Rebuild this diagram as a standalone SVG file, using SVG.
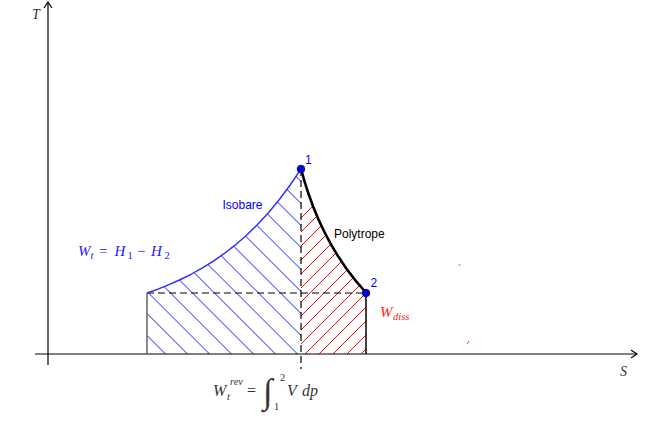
<svg xmlns="http://www.w3.org/2000/svg" width="669" height="441" viewBox="0 0 669 441">
  <style>
    .axis { stroke: #000; stroke-width: 1.2; fill: none; }
    .dash { stroke: #000; stroke-width: 1.2; fill: none; stroke-dasharray: 7 4; }
    .hatchB { stroke: #1a1aff; stroke-width: 1; fill: none; }
    .hatchR { stroke: #ff0000; stroke-width: 1; fill: none; }
    .math { font-family: "Liberation Serif", "DejaVu Serif", serif; font-style: italic; }
    .up { font-style: normal; }
    .sans { font-family: "Liberation Sans", Arial, sans-serif; font-size: 12px; }
    .pt { fill: #0000e0; stroke: #000060; stroke-width: 0.8; }
  </style>
  <defs>
    <marker id="arr" markerUnits="userSpaceOnUse" viewBox="-8 -5 10 10" markerWidth="10" markerHeight="10" refX="0" refY="0" orient="auto">
      <path d="M-6,-4 L0,0 L-6,4" fill="none" stroke="#000" stroke-width="1.2"/>
    </marker>
    <clipPath id="clipB">
      <path d="M147,293 L158,289.06 L169,284.65 L180,279.75 L191,274.26 L202,268.14 L213,261.31 L224,253.68 L235,245.17 L246,235.67 L257,225.06 L268,213.22 L279,200 L290,185.24 L301,168.77 L301,354 L147,354 Z"/>
    </clipPath>
    <clipPath id="clipR">
      <path d="M301,169 L304.5,181.4 L308.5,193.8 L313,206.2 L318.1,218.6 L323.9,231 L330.4,243.4 L337.8,255.8 L346.1,268.2 L355.6,280.6 L366.3,293 L366,354 L301,354 Z"/>
    </clipPath>
  </defs>

  <g id="hatching">
    <path class="hatchB" clip-path="url(#clipB)" d="M140,20.5 L310,190.5 M140,42.5 L310,212.5 M140,64.5 L310,234.5 M140,86.5 L310,256.5 M140,108.5 L310,278.5 M140,130.5 L310,300.5 M140,152.5 L310,322.5 M140,174.5 L310,344.5 M140,196.5 L310,366.5 M140,218.5 L310,388.5 M140,240.5 L310,410.5 M140,262.5 L310,432.5 M140,284.5 L310,454.5 M140,306.5 L310,476.5 M140,328.5 L310,498.5"/>
    <path class="hatchR" clip-path="url(#clipR)" d="M295,224 L372,147 M295,238 L372,161 M295,252 L372,175 M295,266 L372,189 M295,280 L372,203 M295,294 L372,217 M295,308 L372,231 M295,322 L372,245 M295,336 L372,259 M295,350 L372,273 M295,364 L372,287 M295,378 L372,301 M295,392 L372,315 M295,406 L372,329 M295,420 L372,343"/>
  </g>

  <g id="axes">
    <line class="axis" x1="35" y1="354" x2="637" y2="354" marker-end="url(#arr)"/>
    <line class="axis" x1="48" y1="365" x2="48" y2="2" marker-end="url(#arr)"/>
    <text class="math" x="32" y="19" font-size="14" fill="#333">T</text>
    <text class="math" x="620" y="376" font-size="14" fill="#333">S</text>
  </g>

  <g id="connectors">
    <line class="dash" x1="301" y1="169" x2="301" y2="369"/>
    <line class="dash" x1="147" y1="293" x2="366" y2="293"/>
    <line x1="147" y1="293" x2="147" y2="354" stroke="#666" stroke-width="1.5"/>
    <line x1="366" y1="293" x2="366" y2="354" stroke="#000" stroke-width="1.5"/>
    <polyline id="isobare" fill="none" stroke="#2a2aff" stroke-width="1.4" stroke-linejoin="round" points="147,293 158,289.06 169,284.65 180,279.75 191,274.26 202,268.14 213,261.31 224,253.68 235,245.17 246,235.67 257,225.06 268,213.22 279,200 290,185.24 301,168.77"/>
    <polyline id="polytrope" fill="none" stroke="#000" stroke-width="2.6" stroke-linejoin="round" points="301,169 304.5,181.4 308.5,193.8 313,206.2 318.1,218.6 323.9,231 330.4,243.4 337.8,255.8 346.1,268.2 355.6,280.6 366.3,293"/>
  </g>

  <g id="point1">
    <circle class="pt" cx="301" cy="169" r="3.8"/>
    <text class="sans" x="305" y="164" fill="#0000ff">1</text>
  </g>
  <g id="point2">
    <circle class="pt" cx="366" cy="293" r="3.8"/>
    <text class="sans" x="370.5" y="287" fill="#0000ff">2</text>
  </g>

  <g id="labels">
    <text class="sans" x="222.5" y="208.5" fill="#0000ff">Isobare</text>
    <text class="sans" x="334" y="238" fill="#000">Polytrope</text>
    <text class="math" fill="#2020ff" font-size="15">
      <tspan x="78" y="255.5">W</tspan><tspan x="90.5" y="258.5" font-size="10.5">t</tspan><tspan class="up" x="99" y="255.5">=</tspan><tspan x="114.5" y="255.5">H</tspan><tspan class="up" x="127.5" y="258.5" font-size="10.5">1</tspan><tspan class="up" x="137" y="255.5">−</tspan><tspan x="151" y="255.5">H</tspan><tspan class="up" x="164.5" y="258.5" font-size="10.5">2</tspan>
    </text>
    <text class="math" fill="#ff2020" font-size="15">
      <tspan x="380" y="317">W</tspan><tspan x="393" y="319.5" font-size="10.5">diss</tspan>
    </text>
    <text class="math" fill="#333" font-size="16">
      <tspan x="213" y="396">W</tspan><tspan x="227" y="400" font-size="10.5">t</tspan><tspan x="230" y="384.5" font-size="10.5">rev</tspan><tspan class="up" x="247" y="396">=</tspan><tspan class="up" x="263" y="403" font-size="35">∫</tspan><tspan class="up" x="280" y="381" font-size="10.5">2</tspan><tspan class="up" x="274" y="410" font-size="10.5">1</tspan><tspan x="287" y="396">V</tspan><tspan x="302" y="396">dp</tspan>
    </text>
  </g>

  <g id="marks">
    <rect x="458.5" y="264" width="2" height="2" fill="#b8b8d8"/>
    <line x1="467" y1="344" x2="469" y2="341" stroke="#ff4040" stroke-width="1"/>
  </g>
</svg>
